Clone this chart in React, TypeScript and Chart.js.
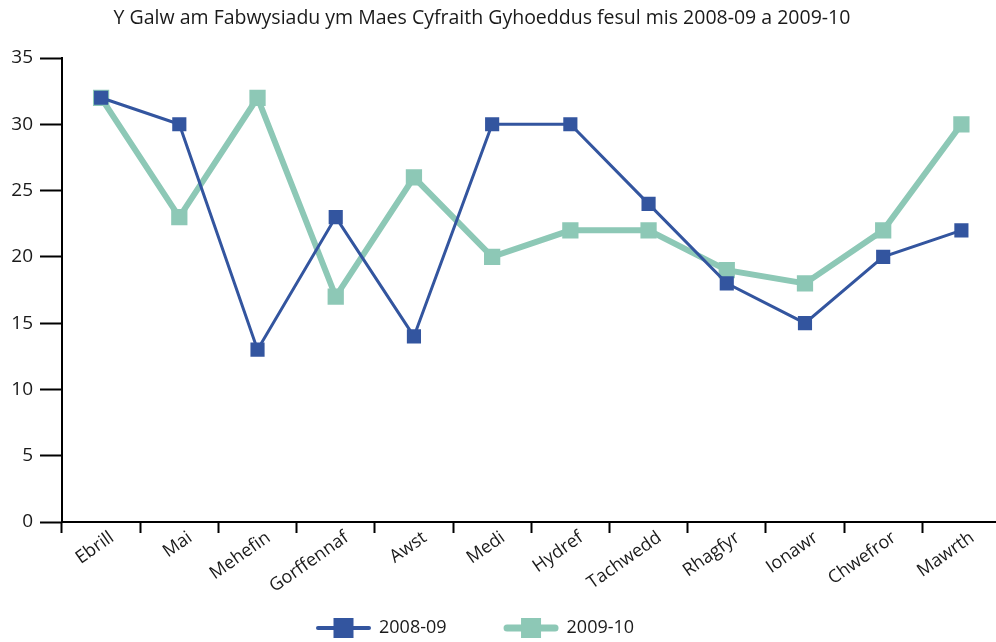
import React, { useEffect, useRef } from "react";
import { Chart, registerables } from "chart.js";

Chart.register(...registerables);

const TITLE = "Y Galw am Fabwysiadu ym Maes Cyfraith Gyhoeddus fesul mis 2008-09 a 2009-10";
const MONTHS = ["Ebrill", "Mai", "Mehefin", "Gorffennaf", "Awst", "Medi", "Hydref", "Tachwedd", "Rhagfyr", "Ionawr", "Chwefror", "Mawrth"];
const SERIES_NAMES = ["2008-09", "2009-10"];
const SERIES_2008_09 = [32, 30, 13, 23, 14, 30, 30, 24, 18, 15, 20, 22];
const SERIES_2009_10 = [32, 23, 32, 17, 26, 20, 22, 22, 19, 18, 22, 30];
const Y_MIN = 0;
const Y_MAX = 35;
const Y_STEP = 5;

const FONT = "'Open Sans', 'Noto Sans', sans-serif";
const BLUE = "#33559F";
const TEAL = "#8DC8B6";
const TEXT = "#1a1a1a";

const titlePlugin = {
  id: "customTitle",
  afterDraw(chart: any) {
    const ctx = chart.ctx;
    ctx.save();
    ctx.font = `19.5px ${FONT}`;
    ctx.fillStyle = TEXT;
    ctx.textAlign = "center";
    ctx.textBaseline = "middle";
    ctx.fillText(TITLE, 482, 18);
    ctx.restore();
  },
};

const legendPlugin = {
  id: "customLegend",
  afterDraw(chart: any) {
    const ctx = chart.ctx;
    const y = 628;
    let x = 316;
    ctx.save();
    ctx.font = `18px ${FONT}`;
    ctx.textBaseline = "middle";
    ctx.textAlign = "left";
    chart.data.datasets.forEach((ds: any) => {
      const lw = ds.borderWidth + 1;
      const half = ds.legendSquare / 2;
      ctx.strokeStyle = ds.borderColor;
      ctx.lineWidth = lw;
      ctx.lineCap = "round";
      ctx.beginPath();
      ctx.moveTo(x + lw / 2, y);
      ctx.lineTo(x + 55 - lw / 2, y);
      ctx.stroke();
      ctx.fillStyle = ds.pointBackgroundColor;
      ctx.fillRect(x + 27.5 - half, y - half, half * 2, half * 2);
      ctx.fillStyle = TEXT;
      const tx = x + 63;
      ctx.fillText(ds.label, tx, y);
      x = tx + ctx.measureText(ds.label).width + 57;
    });
    ctx.restore();
  },
};

export default function App() {
  const ref = useRef<HTMLCanvasElement | null>(null);

  useEffect(() => {
    if (!ref.current) return;
    const chart = new Chart(ref.current, {
      type: "line",
      data: {
        labels: MONTHS,
        datasets: [
          {
            label: SERIES_NAMES[0],
            data: SERIES_2008_09,
            borderColor: BLUE,
            backgroundColor: BLUE,
            pointBackgroundColor: BLUE,
            borderWidth: 3,
            pointStyle: "rect",
            pointRadius: 10,
            pointBorderWidth: 0,
            tension: 0,
            fill: false,
            legendSquare: 20,
          } as any,
          {
            label: SERIES_NAMES[1],
            data: SERIES_2009_10,
            borderColor: TEAL,
            backgroundColor: TEAL,
            pointBackgroundColor: TEAL,
            borderWidth: 6,
            pointStyle: "rect",
            pointRadius: 11.5,
            pointBorderWidth: 0,
            tension: 0,
            fill: false,
            legendSquare: 20,
          } as any,
        ],
      },
      options: {
        animation: false,
        responsive: false,
        devicePixelRatio: 1,
        layout: { padding: { top: 58, left: 0, right: 0, bottom: 0 } },
        plugins: {
          legend: { display: false },
          title: { display: false },
          tooltip: { enabled: false },
        },
        scales: {
          x: {
            type: "category",
            offset: true,
            grid: {
              offset: true,
              drawOnChartArea: false,
              drawTicks: true,
              tickLength: 11,
              tickWidth: 2,
              tickColor: "#000",
            },
            border: { color: "#000", width: 2 },
            ticks: {
              font: { family: FONT, size: 18 },
              color: TEXT,
              minRotation: 35,
              maxRotation: 35,
              padding: -6,
              labelOffset: 11,
              autoSkip: false,
            },
            afterFit: (s: any) => {
              s.height = 120;
            },
          },
          y: {
            min: Y_MIN,
            max: Y_MAX,
            ticks: {
              stepSize: Y_STEP,
              font: { family: FONT, size: 19 },
              color: TEXT,
              padding: 7,
            },
            grid: {
              drawOnChartArea: false,
              drawTicks: true,
              tickLength: 22,
              tickWidth: 2,
              tickColor: "#000",
            },
            border: { color: "#000", width: 2 },
            afterFit: (s: any) => {
              s.width = 62;
            },
          },
        },
      },
      plugins: [titlePlugin, legendPlugin],
    });
    return () => chart.destroy();
  }, []);

  return (
    <div style={{ position: "fixed", left: 0, top: 0, width: 996, height: 642, overflow: "hidden", background: "#fff" }}>
      <canvas ref={ref} width={1012} height={642} style={{ display: "block" }} />
    </div>
  );
}
